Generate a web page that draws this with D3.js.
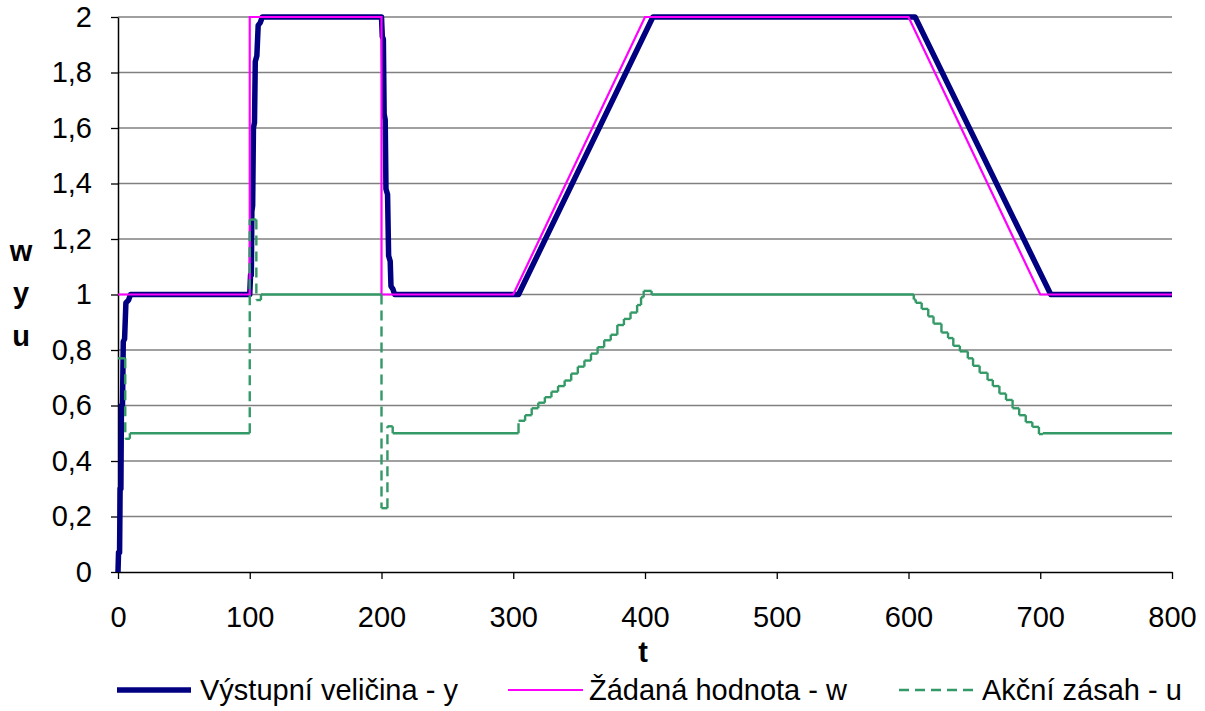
<!DOCTYPE html>
<html>
<head>
<meta charset="utf-8">
<script src="https://cdn.jsdelivr.net/npm/d3@7"></script>
<style>
  body { margin: 0; background: #fff; }
  svg { display: block; }
  text { font-family: "Liberation Sans", Arial, sans-serif; fill: #000; }
</style>
</head>
<body>
<svg id="chart" width="1205" height="711"></svg>
<script>
// Setpoint w(t): breakpoints of the reference signal
const wT = [0, 100, 100, 200, 200, 300, 400, 600, 700, 800];
const wV = [1, 1, 2, 2, 1, 1, 2, 2, 1, 1];

// Process output y(t)
const yT = [0, 0.4, 1.2, 1.6, 2.2, 2.6, 3.4, 4.0, 5.0, 6.0, 8.0, 9.5,
            100, 100.6, 101.2, 101.6, 102.2, 102.8, 103.6, 104.2, 105.4, 106.4, 108, 109.5,
            200, 200.6, 201.4, 202, 202.8, 203.4, 204.6, 205.4, 206.6, 207.2, 208.6, 210,
            300, 304, 406, 605, 708, 800];
const yV = [0, 0.07, 0.07, 0.3, 0.3, 0.6, 0.6, 0.83, 0.84, 0.97, 0.98, 1,
            1, 1.07, 1.07, 1.3, 1.32, 1.6, 1.62, 1.84, 1.86, 1.97, 1.98, 2,
            2, 1.93, 1.92, 1.65, 1.63, 1.38, 1.36, 1.14, 1.12, 1.03, 1.02, 1,
            1, 1, 2, 2, 1, 1];

// Control action u(t): held value from each switching time
const uT = [0, 5.5, 9,
            100, 105, 108.5,
            200, 204.5, 208.5,
            304, 309, 314, 319, 324, 329, 334, 339, 344, 349, 354, 359, 364, 369, 374, 379, 384, 389, 394, 397, 399, 405,
            604, 605.5, 610, 615, 619, 625, 630, 634, 639, 645, 649, 654, 660, 664, 669, 674, 679, 684, 689, 694, 699, 702,
            800];
const uV = [0.77, 0.48, 0.5,
            1.27, 0.98, 1.0,
            0.23, 0.525, 0.5,
            0.545, 0.565, 0.59, 0.61, 0.63, 0.65, 0.67, 0.69, 0.715, 0.74, 0.762, 0.787, 0.81, 0.835, 0.855, 0.89, 0.912, 0.935, 0.962, 0.99, 1.013, 1.0,
            0.982, 0.97, 0.948, 0.921, 0.895, 0.863, 0.843, 0.815, 0.795, 0.77, 0.743, 0.718, 0.692, 0.67, 0.643, 0.62, 0.59, 0.565, 0.54, 0.523, 0.497, 0.5,
            0.5];

const xTickValues = [0, 100, 200, 300, 400, 500, 600, 700, 800];
const yTickValues = [0, 0.2, 0.4, 0.6, 0.8, 1, 1.2, 1.4, 1.6, 1.8, 2];
const yTickLabels = ["0", "0,2", "0,4", "0,6", "0,8", "1", "1,2", "1,4", "1,6", "1,8", "2"];
const yAxisLetters = ["w", "y", "u"];
const xAxisTitle = "t";
const seriesNames = ["Výstupní veličina - y", "Žádaná hodnota - w", "Akční zásah - u"];
const seriesColors = ["#000080", "#FF00FF", "#339966"];

const svg = d3.select("#chart");
const plotLeft = 118, plotRight = 1172, plotTop = 17, plotBottom = 572;
const fontSize = 29;
const dashPattern = "10,6";

const x = d3.scaleLinear().domain([0, 800]).range([plotLeft, plotRight]);
const y = d3.scaleLinear().domain([0, 2]).range([plotBottom, plotTop]);

// horizontal grid
svg.append("g")
  .selectAll("line")
  .data(yTickValues.filter(v => v > 0))
  .join("line")
  .attr("x1", plotLeft).attr("x2", plotRight)
  .attr("y1", d => y(d)).attr("y2", d => y(d))
  .attr("stroke", "#808080").attr("stroke-width", 1.3);

// axes
const yAxis = d3.axisLeft(y)
  .tickValues(yTickValues)
  .tickFormat((d, i) => yTickLabels[i])
  .tickSizeInner(7).tickSizeOuter(0).tickPadding(19);
const gy = svg.append("g").attr("transform", `translate(${plotLeft},0)`).call(yAxis);

const xAxis = d3.axisBottom(x)
  .tickValues(xTickValues)
  .tickSizeInner(7).tickSizeOuter(0).tickPadding(27);
const gx = svg.append("g").attr("transform", `translate(0,${plotBottom})`).call(xAxis);

[gx, gy].forEach(g => {
  g.select(".domain").attr("stroke", "#000").attr("stroke-width", 1.5);
  g.selectAll(".tick line").attr("stroke", "#000").attr("stroke-width", 1.3);
  g.selectAll("text").attr("font-size", fontSize).attr("font-family", "Liberation Sans, Arial, sans-serif").attr("fill", "#000");
});

// axis titles
svg.append("text").attr("x", x(400) - 2).attr("y", 662)
  .attr("text-anchor", "middle").attr("font-size", fontSize).attr("font-weight", "bold")
  .text(xAxisTitle);
const letterY = [261, 303, 346];
svg.append("g").selectAll("text").data(yAxisLetters).join("text")
  .attr("x", 21).attr("y", (d, i) => letterY[i])
  .attr("text-anchor", "middle").attr("font-size", fontSize).attr("font-weight", "bold")
  .text(d => d);

const plot = svg.append("g");
const line = d3.line().x(d => x(d[0])).y(d => y(d[1]));

// output y
plot.append("path")
  .datum(yT.map((t, i) => [t, yV[i]]))
  .attr("d", line)
  .attr("fill", "none").attr("stroke", seriesColors[0]).attr("stroke-width", 5.5)
  .attr("stroke-linejoin", "round");

// setpoint w
plot.append("path")
  .datum(wT.map((t, i) => [t, wV[i]]))
  .attr("d", line)
  .attr("fill", "none").attr("stroke", seriesColors[1]).attr("stroke-width", 2.2);

// control action u: holds drawn solid, jumps drawn dashed
const uSegs = [];
for (let i = 0; i < uT.length - 1; i++) {
  uSegs.push({ a: [uT[i], uV[i]], b: [uT[i + 1], uV[i]], jump: false });
  if (uV[i + 1] !== uV[i]) {
    uSegs.push({ a: [uT[i + 1], uV[i]], b: [uT[i + 1], uV[i + 1]], jump: true });
  }
}
plot.append("g").selectAll("line").data(uSegs).join("line")
  .attr("x1", d => x(d.a[0])).attr("y1", d => y(d.a[1]))
  .attr("x2", d => x(d.b[0])).attr("y2", d => y(d.b[1]))
  .attr("stroke", seriesColors[2]).attr("stroke-width", 2.4)
  .attr("stroke-linecap", "butt")
  .attr("stroke-dasharray", d => d.jump ? dashPattern : null);

// legend
const legendItems = [
  { name: seriesNames[0], color: seriesColors[0], width: 5.5, dash: null, x0: 117, x1: 191, tx: 200 },
  { name: seriesNames[1], color: seriesColors[1], width: 2.2, dash: null, x0: 508, x1: 583, tx: 589 },
  { name: seriesNames[2], color: seriesColors[2], width: 2.4, dash: dashPattern, x0: 899, x1: 975, tx: 982 }
];
const lg = svg.append("g").selectAll("g").data(legendItems).join("g");
lg.append("line")
  .attr("x1", d => d.x0).attr("x2", d => d.x1).attr("y1", 690).attr("y2", 690)
  .attr("stroke", d => d.color).attr("stroke-width", d => d.width)
  .attr("stroke-dasharray", d => d.dash);
lg.append("text")
  .attr("x", d => d.tx).attr("y", 700)
  .attr("font-size", fontSize)
  .text(d => d.name);
</script>
</body>
</html>
